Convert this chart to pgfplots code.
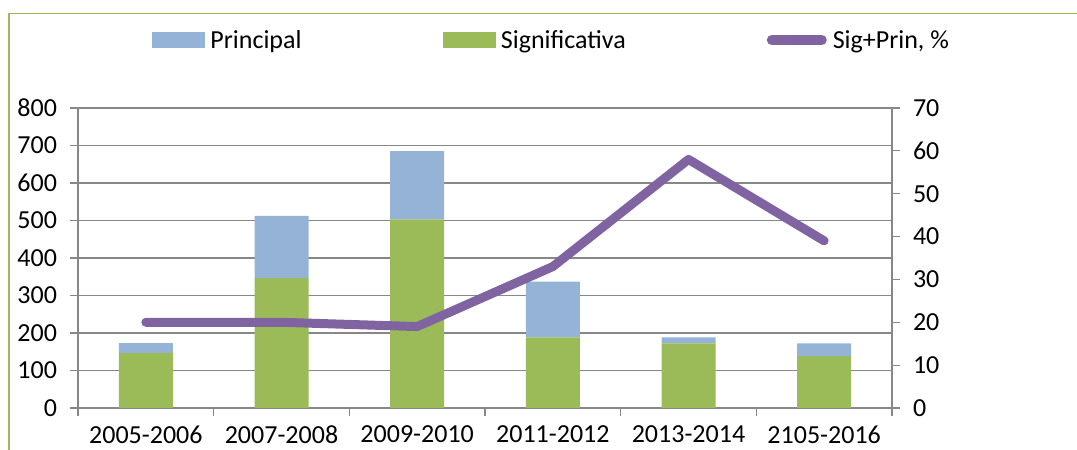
\documentclass[border=0pt]{standalone}
\usepackage{fontspec}
\setmainfont{Carlito}
\usepackage{pgfplots}
\pgfplotsset{compat=1.18}
\definecolor{prin}{HTML}{95B3D7}
\definecolor{sig}{HTML}{9BBB59}
\definecolor{lin}{HTML}{8064A2}
\definecolor{gridc}{HTML}{878787}
\definecolor{bord}{HTML}{9BBB59}
\newcommand{\chartfont}{\fontsize{26bp}{31bp}\selectfont}
\begin{document}
\begin{tikzpicture}
\pgfplotsset{
  common/.style={
    at={(78bp,42bp)}, anchor=south west,
    scale only axis, width=814bp, height=300bp,
    xmin=-0.5, xmax=5.5,
    tick align=outside, major tick length=8bp,
    axis line style={gridc, line width=1.2bp},
    tick style={gridc, line width=1.2bp},
    /pgf/number format/assume math mode=true,
    tick label style={font=\chartfont, text=black},
  }
}
\begin{axis}[common,
  ymin=0, ymax=800,
  ytick={0,100,...,800},
  xtick={-0.5,0.5,1.5,2.5,3.5,4.5,5.5},
  x tick label as interval,
  xticklabels={2005-2006,2007-2008,2009-2010,2011-2012,2013-2014,2105-2016},
  axis x line*=bottom, axis y line*=left,
  ymajorgrids, grid style={gridc, line width=1.2bp},
  ybar stacked, bar width=54bp,
  yticklabel style={xshift=-9.5bp},
  xticklabel style={yshift=-6bp},
]
\addplot[fill=sig, draw=none] coordinates {(0,146) (1,346) (2,503) (3,188) (4,172) (5,138)};
\addplot[fill=prin, draw=none] coordinates {(0,27) (1,166) (2,182) (3,149) (4,16) (5,34)};
\end{axis}
\begin{axis}[common,
  ymin=0, ymax=70,
  ytick={0,10,...,70},
  axis y line*=right, axis x line=none,
  yticklabel style={xshift=9.5bp},
  legend columns=3,
  legend cell align=left,
  legend style={draw=none, fill=none, inner sep=0pt, outer sep=0pt,
    at={(axis description cs:0.0909,1.2267)}, anchor=west,
    font=\chartfont,
    nodes={inner sep=0pt},
    /tikz/every odd column/.append style={column sep=6bp},
    /tikz/every even column/.append style={column sep=141bp}},
]
\addlegendimage{legend image code/.code={\fill[prin] (0bp,-7.5bp) rectangle (52bp,7.5bp);}}
\addlegendentry{Principal}
\addlegendimage{legend image code/.code={\fill[sig] (0bp,-7.5bp) rectangle (52bp,7.5bp);}}
\addlegendentry{Significativa}
\addlegendimage{legend image code/.code={\draw[lin, line width=10bp, line cap=round] (5bp,0bp) -- (55bp,0bp);}}
\addlegendentry{Sig+Prin, \%}
\addplot[lin, line width=9bp, line cap=round, line join=round] coordinates {(0,20) (1,20) (2,19) (3,33) (4,58) (5,39)};
\end{axis}
\draw[bord, line width=1.5bp] (9bp,-5bp) -- (9bp,436.7bp) -- (1080bp,436.7bp);
\pgfresetboundingbox
\useasboundingbox (0,0) rectangle (1077bp,450bp);
\end{tikzpicture}
\end{document}
